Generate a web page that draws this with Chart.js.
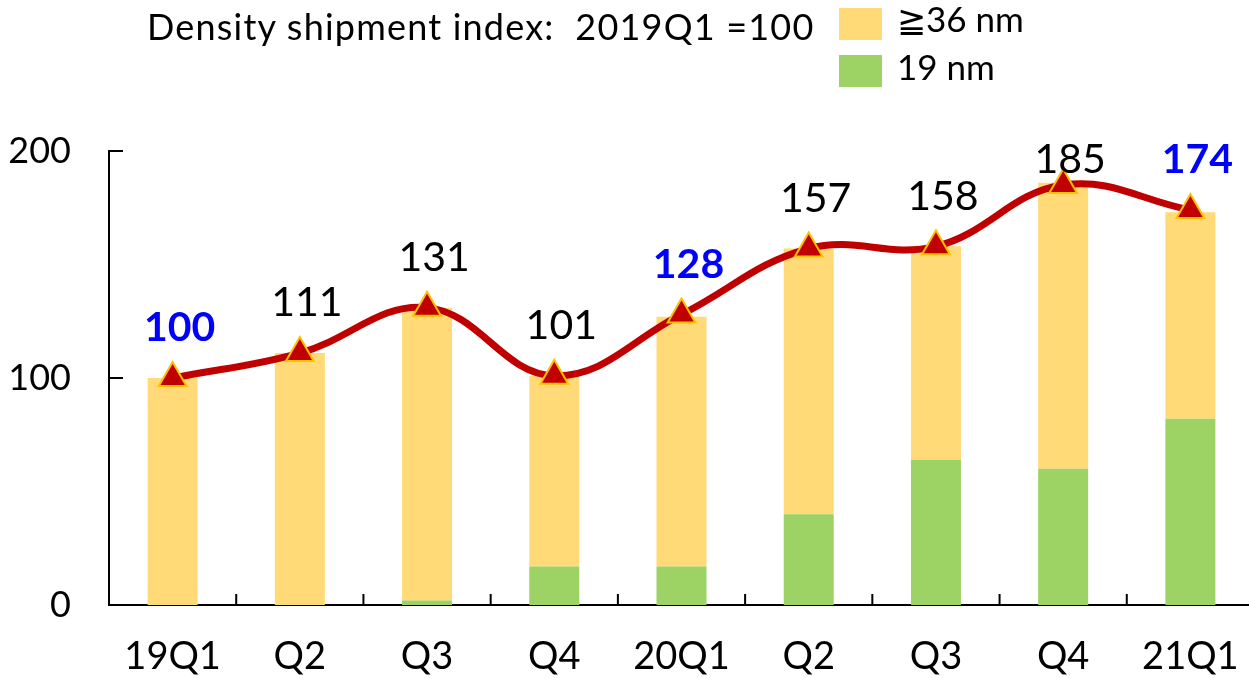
<!DOCTYPE html>
<html><head><meta charset="utf-8">
<script src="https://cdn.jsdelivr.net/npm/chart.js@4/dist/chart.umd.min.js"></script>
<style>
html,body{margin:0;padding:0;background:#fff;overflow:hidden;width:1249px;height:678px}
#wrap{position:absolute;left:0;top:0;width:1258px;height:678px}
.t{position:absolute;font-family:Lato,sans-serif;color:#000;white-space:pre;line-height:1;font-size:35px}
.box{position:absolute;left:839px;width:43px;height:32px}
</style></head>
<body>
<div id="wrap"><canvas id="c"></canvas></div>
<div class="t" id="title" style="left:147px;top:8px;font-size:36px;letter-spacing:1.2px">Density shipment index:  2019Q1 =100</div>
<div class="box" id="box36" style="top:8px"></div>
<div class="t" id="lab36" style="left:897px;top:1px"></div>
<div class="box" id="box19" style="top:55px"></div>
<div class="t" id="lab19" style="left:897px;top:49px"></div>
<script>
const CATS = ['19Q1', 'Q2', 'Q3', 'Q4', '20Q1', 'Q2', 'Q3', 'Q4', '21Q1'];
const NM36 = [100, 111, 129, 84, 110, 117, 94, 126, 91];
const NM19 = [0, 0, 2, 17, 17, 40, 64, 60, 82];
const INDEX = [100, 111, 131, 101, 128, 157, 158, 185, 174];
const Y_TICKS = [0, 100, 200];
const YELLOW = '#FFDA77', GREEN = '#9DD364', LINE = '#C00000';
const FONT = 'Lato, sans-serif';

document.getElementById('box36').style.background = YELLOW;
document.getElementById('box19').style.background = GREEN;
document.getElementById('lab36').textContent = '≧36 nm';
document.getElementById('lab19').textContent = '19 nm';

// short ticks drawn inward, like the original
const innerTicks = {
  id: 'innerTicks',
  beforeDatasetsDraw(chart) {
    const { ctx, chartArea: a, scales: { x, y } } = chart;
    ctx.save(); ctx.strokeStyle = '#000'; ctx.lineWidth = 2; ctx.beginPath();
    Y_TICKS.forEach(v => { const py = y.getPixelForValue(v); ctx.moveTo(a.left, py); ctx.lineTo(a.left + 14, py); });
    for (let i = 1; i < CATS.length; i++) {
      const px = (x.getPixelForValue(i - 1) + x.getPixelForValue(i)) / 2;
      ctx.moveTo(px, a.bottom); ctx.lineTo(px, a.bottom - 11);
    }
    ctx.stroke(); ctx.restore();
  }
};

// value labels above the line points, Q1 in bold blue
const valueLabels = {
  id: 'valueLabels',
  afterDatasetsDraw(chart) {
    const { ctx, chartArea: a } = chart;
    const meta = chart.getDatasetMeta(0);
    ctx.save(); ctx.textAlign = 'center'; ctx.textBaseline = 'middle';
    meta.data.forEach((p, i) => {
      const q1 = CATS[i].endsWith('Q1');
      ctx.font = (q1 ? 'bold ' : '') + '41px ' + FONT;
      ctx.fillStyle = q1 ? '#0000FF' : '#000';
      ctx.fillText(String(INDEX[i]), p.x + 7, Math.max(p.y - 50, a.top + 9));
    });
    ctx.restore();
  }
};

new Chart(document.getElementById('c'), {
  data: {
    labels: CATS,
    datasets: [
      { type: 'line', label: 'Index', data: INDEX, borderColor: LINE, borderWidth: 7, tension: 0.4,
        pointStyle: 'triangle', pointRadius: 16, pointBackgroundColor: LINE, pointBorderColor: '#FFC000',
        pointBorderWidth: 2, order: 0, clip: false },
      { type: 'bar', label: '19 nm', data: NM19, backgroundColor: GREEN, order: 1,
        categoryPercentage: 1, barPercentage: 0.393 },
      { type: 'bar', label: '≧36 nm', data: NM36, backgroundColor: YELLOW, order: 1,
        categoryPercentage: 1, barPercentage: 0.393 },
    ]
  },
  options: {
    responsive: true, maintainAspectRatio: false, animation: false,
    layout: { autoPadding: false, padding: { top: 151, right: 4, left: 0, bottom: 0 } },
    plugins: { legend: { display: false }, tooltip: { enabled: false } },
    scales: {
      x: {
        stacked: true,
        grid: { display: false, drawTicks: false },
        border: { display: true, color: '#000', width: 2 },
        ticks: { color: '#000', font: { family: FONT, size: 38 }, padding: 29, maxRotation: 0, autoSkip: false },
        afterFit: s => { s.height = 73; s.paddingLeft = 0; s.paddingRight = 0; }
      },
      y: {
        stacked: true, min: 0, max: 200,
        grid: { display: false, drawTicks: false },
        border: { display: true, color: '#000', width: 2 },
        ticks: { stepSize: 100, color: '#000', font: { family: FONT, size: 36 }, padding: 38 },
        afterFit: s => { s.width = 109; }
      }
    }
  },
  plugins: [innerTicks, valueLabels]
});
</script>
</body></html>
